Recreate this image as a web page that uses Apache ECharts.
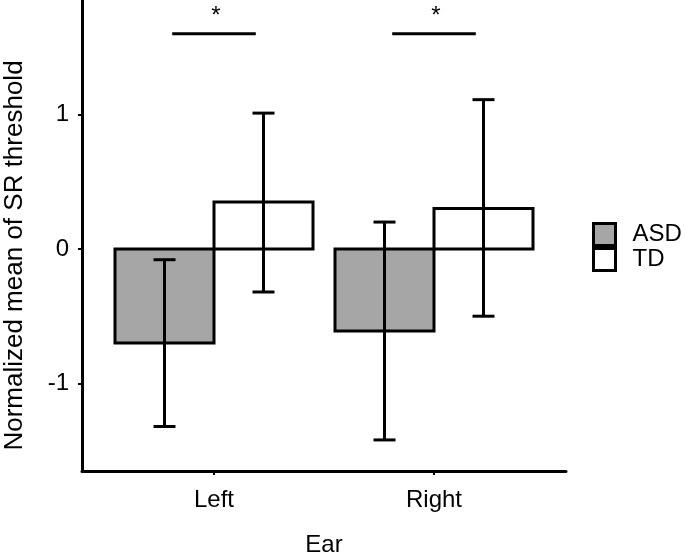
<!DOCTYPE html>
<html lang="en">
<head>
  <meta charset="UTF-8">
  <title>SR threshold by ear</title>
  <script src="https://cdn.jsdelivr.net/npm/echarts/dist/echarts.min.js"></script>
  <style>
    body { margin: 0; background: #fff; }
  </style>
</head>
<body>
  <div id="chart" style="width: 685px; height: 560px;"></div>
<script>
// data
let ears = ['Left', 'Right'];
let groups = ['ASD', 'TD'];
let asdMean = [-0.70, -0.61];
let asdLow = [-1.32, -1.42];
let asdHigh = [-0.08, 0.20];
let tdMean = [0.35, 0.30];
let tdLow = [-0.32, -0.50];
let tdHigh = [1.01, 1.11];
let sigY = [1.60, 1.60];
let sigText = ['*', '*'];
let yTicks = [-1, 0, 1];

const FONT = 'Liberation Sans, Arial, sans-serif';
const DODGE = 0.45;

function barItem(color) {
  return function (params, api) {
    let x = api.value(0), v = api.value(1);
    let p0 = api.coord([x - DODGE / 2, 0]);
    let p1 = api.coord([x + DODGE / 2, v]);
    return {
      type: 'rect',
      shape: { x: p0[0], y: Math.min(p0[1], p1[1]), width: p1[0] - p0[0], height: Math.abs(p1[1] - p0[1]) },
      style: { fill: color, stroke: '#000', lineWidth: 3 }
    };
  };
}

function errItem(params, api) {
  let x = api.value(0);
  let lo = api.coord([x, api.value(1)]);
  let hi = api.coord([x, api.value(2)]);
  let w = 11;
  let st = { stroke: '#000', lineWidth: 3 };
  return {
    type: 'group',
    children: [
      { type: 'line', shape: { x1: lo[0], y1: lo[1], x2: hi[0], y2: hi[1] }, style: st },
      { type: 'line', shape: { x1: lo[0] - w, y1: lo[1], x2: lo[0] + w, y2: lo[1] }, style: st },
      { type: 'line', shape: { x1: hi[0] - w, y1: hi[1], x2: hi[0] + w, y2: hi[1] }, style: st }
    ]
  };
}

function sigItem(params, api) {
  let x = api.value(0), y = api.value(1);
  let a = api.coord([x - 0.19, y]);
  let b = api.coord([x + 0.19, y]);
  return {
    type: 'group',
    children: [
      { type: 'line', shape: { x1: a[0], y1: a[1], x2: b[0], y2: b[1] }, style: { stroke: '#000', lineWidth: 3 } },
      { type: 'text', style: { text: sigText[params.dataIndex], x: (a[0] + b[0]) / 2 + 2, y: a[1] - 17, font: '24px ' + FONT, fill: '#000', align: 'center', verticalAlign: 'middle' } }
    ]
  };
}

let asdPos = ears.map((e, i) => i + 1 - DODGE / 2);
let tdPos = ears.map((e, i) => i + 1 + DODGE / 2);

let chart = echarts.init(document.getElementById('chart'));
chart.setOption({
  animation: false,
  backgroundColor: '#fff',
  textStyle: { fontFamily: FONT, color: '#000' },
  grid: { left: 82, top: 0, width: 484, height: 471, outerBoundsMode: 'none', containLabel: false },
  legend: {
    orient: 'vertical',
    left: 592, top: 222, padding: 0,
    itemWidth: 22, itemHeight: 22, itemGap: 0,
    icon: 'rect',
    textStyle: { fontSize: 24, fontFamily: FONT, color: '#000', padding: [0, 0, 0, 12] },
    data: [
      { name: 'ASD', itemStyle: { color: '#a6a6a6', borderColor: '#000', borderWidth: 3 } },
      { name: 'TD', itemStyle: { color: '#fff', borderColor: '#000', borderWidth: 3 } }
    ]
  },
  xAxis: {
    type: 'value', min: 0.4, max: 2.6,
    name: 'Ear', nameLocation: 'middle', nameGap: 62,
    nameTextStyle: { fontSize: 24, fontFamily: FONT, color: '#000' },
    splitLine: { show: false },
    axisLine: { show: true, onZero: false, lineStyle: { color: '#000', width: 3 } },
    axisTick: { show: true, customValues: [1, 2], length: 4, lineStyle: { color: '#000', width: 2 } },
    axisLabel: { customValues: [1, 2], formatter: v => ears[Math.round(v) - 1], fontSize: 24, color: '#000', margin: 17, fontFamily: FONT }
  },
  yAxis: {
    type: 'value', min: -1.651, max: 1.851,
    name: 'Normalized mean of SR threshold', nameLocation: 'middle', nameGap: 54,
    nameTextStyle: { fontSize: 26, fontFamily: FONT, color: '#000', padding: [0, 40, 0, 0] },
    splitLine: { show: false },
    axisLine: { show: true, onZero: false, lineStyle: { color: '#000', width: 3 } },
    axisTick: { show: true, customValues: yTicks, length: 4, lineStyle: { color: '#000', width: 2 } },
    axisLabel: { customValues: yTicks, fontSize: 24, color: '#000', margin: 13, fontFamily: FONT }
  },
  series: [
    { name: 'ASD', type: 'custom', renderItem: barItem('#a6a6a6'), itemStyle: { color: '#a6a6a6' },
      data: asdPos.map((x, i) => [x, asdMean[i]]) },
    { name: 'TD', type: 'custom', renderItem: barItem('#fff'), itemStyle: { color: '#fff' },
      data: tdPos.map((x, i) => [x, tdMean[i]]) },
    { type: 'custom', renderItem: errItem, silent: true,
      data: asdPos.map((x, i) => [x, asdLow[i], asdHigh[i]]).concat(tdPos.map((x, i) => [x, tdLow[i], tdHigh[i]])) },
    { type: 'custom', renderItem: sigItem, silent: true,
      data: ears.map((e, i) => [i + 1, sigY[i]]) }
  ]
});
</script>
</body>
</html>
